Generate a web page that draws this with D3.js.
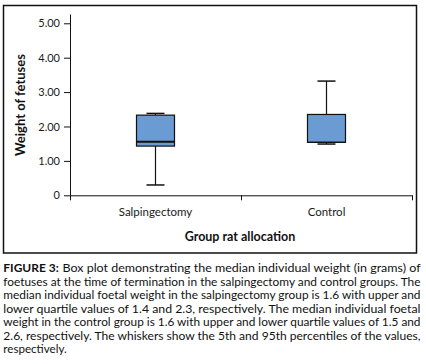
<html>
<head>
<meta charset="utf-8">
<title>Box plot of foetal weight</title>
<style>
  body { margin: 0; background: #fff; }
  text { font-family: Lato, "Open Sans", sans-serif; }
</style>
</head>
<body>
<script src="https://cdn.jsdelivr.net/npm/d3@7"></script>
<script>
// data
var groups = ["Salpingectomy", "Control"];
var whiskerLow = [0.30, 1.49];
var quartile1 = [1.43, 1.54];
var medians = [1.56, 1.54];
var quartile3 = [2.33, 2.35];
var whiskerHigh = [2.38, 3.32];
var yTicks = [0, 1, 2, 3, 4, 5];
var yTickLabels = ["0", "1.00", "2.00", "3.00", "4.00", "5.00"];
var captionBold = "FIGURE 3:";
var captionLines = [
  "Box plot demonstrating the median individual weight (in grams) of",
  "foetuses at the time of termination in the salpingectomy and control groups. The",
  "median individual foetal weight in the salpingectomy group is 1.6 with upper and",
  "lower quartile values of 1.4 and 2.3, respectively. The median individual foetal",
  "weight in the control group is 1.6 with upper and lower quartile values of 1.5 and",
  "2.6, respectively. The whiskers show the 5th and 95th percentiles of the values,",
  "respectively."
];

var width = 426, height = 364;
var svg = d3.select("body").append("svg")
  .attr("width", width)
  .attr("height", height);

// frame around the chart
svg.append("rect")
  .attr("x", 3.5).attr("y", 5.5)
  .attr("width", 413).attr("height", 247.5)
  .attr("fill", "none")
  .attr("stroke", "#111")
  .attr("stroke-width", 1.5);

var left = 70, right = 412;
var y = d3.scaleLinear().domain([0, 5.27]).range([195.3, 14]);
var x = d3.scaleBand().domain(groups).range([left, right]);
var xEdges = d3.scaleLinear().domain([0, groups.length]).range([left, right]);

// y axis
var yAxis = svg.append("g")
  .attr("transform", "translate(" + left + ",0)")
  .call(d3.axisLeft(y)
    .tickValues(yTicks)
    .tickSize(6)
    .tickSizeOuter(0)
    .tickPadding(4)
    .tickFormat(function (d, i) { return yTickLabels[i]; }));
yAxis.selectAll("text").attr("font-size", 11).attr("fill", "#1a1a1a")
  .style("font-family", "Lato, sans-serif");
yAxis.selectAll("line, path").attr("stroke", "#111");

// x axis, ticks on band edges
var xAxis = svg.append("g")
  .attr("transform", "translate(0," + y(0) + ")")
  .call(d3.axisBottom(xEdges)
    .tickValues(d3.range(groups.length + 1))
    .tickSize(5)
    .tickSizeOuter(0)
    .tickFormat(""));
xAxis.selectAll("line, path").attr("stroke", "#111");

svg.selectAll(".xlab")
  .data(groups)
  .enter()
  .append("text")
  .attr("class", "xlab")
  .attr("x", function (d) { return x(d) + x.bandwidth() / 2; })
  .attr("y", 216)
  .attr("text-anchor", "middle")
  .attr("font-size", 11.5)
  .attr("fill", "#1a1a1a")
  .text(function (d) { return d; });

// axis titles
svg.append("text")
  .attr("transform", "translate(24.5,105) rotate(-90)")
  .attr("text-anchor", "middle")
  .attr("font-size", 13)
  .attr("font-weight", "bold")
  .attr("fill", "#111")
  .text("Weight of fetuses");

svg.append("text")
  .attr("x", 240)
  .attr("y", 240.5)
  .attr("text-anchor", "middle")
  .attr("font-size", 12.5)
  .attr("font-weight", "bold")
  .attr("fill", "#111")
  .text("Group rat allocation");

// boxes
var boxW = 38, capW = 18;
var boxes = svg.selectAll(".box")
  .data(groups)
  .enter()
  .append("g")
  .attr("class", "box")
  .attr("transform", function (d) {
    return "translate(" + (x(d) + x.bandwidth() / 2) + ",0)";
  });

boxes.append("line")
  .attr("x1", 0).attr("x2", 0)
  .attr("y1", function (d, i) { return y(whiskerLow[i]); })
  .attr("y2", function (d, i) { return y(whiskerHigh[i]); })
  .attr("stroke", "#111").attr("stroke-width", 1.2);

[whiskerLow, whiskerHigh].forEach(function (arr) {
  boxes.append("line")
    .attr("x1", -capW / 2).attr("x2", capW / 2)
    .attr("y1", function (d, i) { return y(arr[i]); })
    .attr("y2", function (d, i) { return y(arr[i]); })
    .attr("stroke", "#111").attr("stroke-width", 1.5);
});

boxes.append("rect")
  .attr("x", -boxW / 2)
  .attr("width", boxW)
  .attr("y", function (d, i) { return y(quartile3[i]); })
  .attr("height", function (d, i) { return y(quartile1[i]) - y(quartile3[i]); })
  .attr("fill", "#6a9bd2")
  .attr("stroke", "#111")
  .attr("stroke-width", 1.2);

boxes.append("line")
  .attr("x1", -boxW / 2).attr("x2", boxW / 2)
  .attr("y1", function (d, i) { return y(medians[i]); })
  .attr("y2", function (d, i) { return y(medians[i]); })
  .attr("stroke", "#111")
  .attr("stroke-width", function (d, i) { return medians[i] === quartile1[i] ? 1.2 : 2; });

// caption, justified by forcing each line's length
var capTop = 272, lineH = 13.5;
svg.append("text")
  .attr("x", 3.3).attr("y", capTop)
  .attr("font-size", 11)
  .attr("font-weight", "bold")
  .attr("fill", "#111")
  .attr("textLength", 55.5)
  .attr("lengthAdjust", "spacingAndGlyphs")
  .text(captionBold);

svg.selectAll(".cap")
  .data(captionLines)
  .enter()
  .append("text")
  .attr("class", "cap")
  .attr("x", function (d, i) { return i === 0 ? 62.5 : 3.3; })
  .attr("y", function (d, i) { return capTop + i * lineH; })
  .attr("font-size", 11)
  .attr("fill", "#111")
  .attr("textLength", function (d, i) {
    if (i === 0) return 358;
    if (i === captionLines.length - 1) return 63.5;
    return 417.2;
  })
  .attr("lengthAdjust", "spacingAndGlyphs")
  .text(function (d) { return d; });
</script>
</body>
</html>
